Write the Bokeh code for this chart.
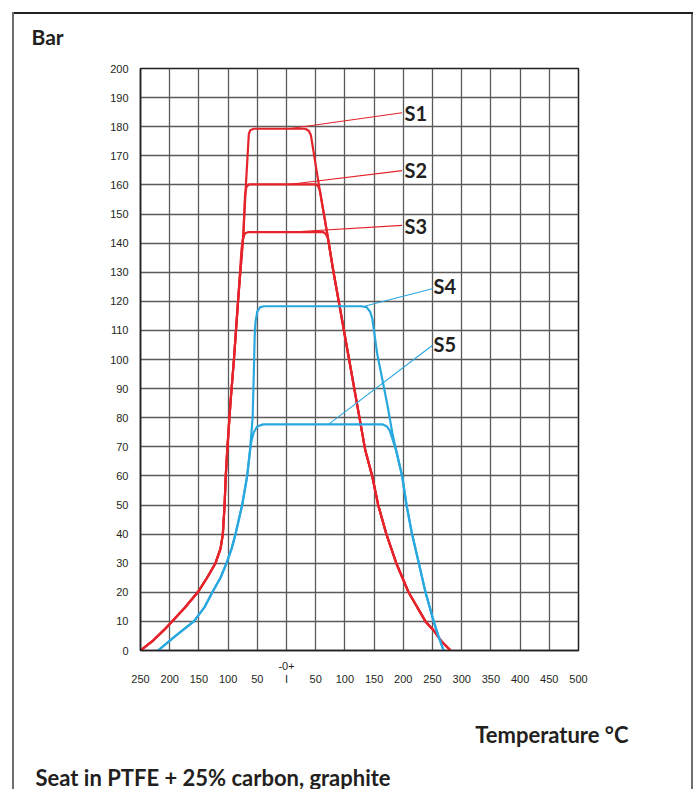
from bokeh.plotting import figure
from bokeh.models import Range1d, FixedTicker, Label, Title
from bokeh.embed import file_html
from bokeh.resources import INLINE

# ---- axes ----
x_ticks = [-250, -200, -150, -100, -50, 0, 50, 100, 150, 200, 250, 300, 350, 400, 450, 500]
x_tick_labels = ["250", "200", "150", "100", "50", "-0+", "50", "100", "150", "200", "250",
                 "300", "350", "400", "450", "500"]
y_ticks = list(range(0, 201, 10))

# ---- series (temperature degC, pressure bar) ----
s1_t = [-250, -228, -210, -196, -175, -152, -136, -121.6, -113, -109, -106, -104, -101.5, -96, -90, -83,
        -74, -69.5, -64.5, -62, -56, 32, 38, 41.5, 42.3, 55.3, 69.7, 80, 93.9, 107.2, 120.5, 135,
        146.7, 157, 171, 188, 209, 238, 252, 266, 281]
s1_p = [0, 3.5, 7, 10, 14.5, 20, 25, 30, 35, 40, 50, 60, 68.7, 85, 100, 120,
        142.6, 160, 177.5, 178.8, 179.3, 179.3, 178.6, 177.2, 176.4, 160.2, 143.3, 130.6, 115, 100, 85, 68.7,
        60, 50, 40, 30, 20, 10, 6.9, 3, 0]

s2_t = [-250, -228, -210, -196, -175, -152, -136, -121.6, -113, -109, -106, -104, -101.5, -96, -90, -83,
        -74, -71, -68.5, -64, 50, 54, 57, 69.7, 80, 93.9, 107.2, 120.5, 135,
        146.7, 157, 171, 188, 209, 238, 252, 266, 281]
s2_p = [0, 3.5, 7, 10, 14.5, 20, 25, 30, 35, 40, 50, 60, 68.7, 85, 100, 120,
        142.6, 156.5, 159.4, 160.2, 160.2, 159.6, 158.2, 143.3, 130.6, 115, 100, 85, 68.7,
        60, 50, 40, 30, 20, 10, 6.9, 3, 0]

s3_t = [-250, -228, -210, -196, -175, -152, -136, -121.6, -113, -109, -106, -104, -101.5, -96, -90, -83,
        -77, -74.5, -71, -65, 63, 67, 70.9, 80, 93.9, 107.2, 120.5, 135,
        146.7, 157, 171, 188, 209, 238, 252, 266, 281]
s3_p = [0, 3.5, 7, 10, 14.5, 20, 25, 30, 35, 40, 50, 60, 68.7, 85, 100, 120,
        138, 141.5, 143.4, 143.8, 143.8, 143.2, 141.8, 130.6, 115, 100, 85, 68.7,
        60, 50, 40, 30, 20, 10, 6.9, 3, 0]

s4_t = [-220, -190, -158.7, -140, -127, -113, -102.7, -94, -87.3, -75.9, -67.3, -62.5, -58, -56, -54.5,
        -53, -50, -45, -38, 128, 137, 143, 147, 155.3, 172.4, 181, 187.8, 198, 205.5, 215, 226.6,
        238, 252, 260, 269]
s4_p = [0, 5, 10, 15, 20, 25, 30, 35, 40, 50, 60, 68.7, 80, 95, 108,
        113, 116.5, 118, 118.3, 118.3, 118, 116.5, 114, 102, 84.8, 75, 68.7, 60, 50, 40, 30,
        20, 10, 5, 0]

s5_t = [-220, -190, -158.7, -140, -127, -113, -102.7, -94, -87.3, -75.9, -67.3, -62.5, -60, -56, -50,
        -40, 165, 172, 177, 181, 187.8, 198, 205.5, 215, 226.6, 238, 252, 260, 269]
s5_p = [0, 5, 10, 15, 20, 25, 30, 35, 40, 50, 60, 68.7, 72, 75, 77,
        77.7, 77.7, 77, 75.5, 73, 68.7, 60, 50, 40, 30, 20, 10, 5, 0]

# ---- series labels and leader lines ----
series_names = ["S1", "S2", "S3", "S4", "S5"]
leader_t0 = [3.5, 7, 10, 135, 72]
leader_p0 = [179.3, 160.2, 143.8, 118.4, 77.7]
leader_t1 = [198, 198, 198, 249.5, 249.5]
leader_p1 = [184.8, 164.9, 146.1, 124.3, 104.8]
name_t = [202, 202, 202, 251.7, 251.7]
name_p = [184.6, 165.2, 145.9, 125.2, 105.2]

RED = "#e5232b"
BLUE = "#29a8e0"
INK = "#231f20"
GRID = "#5a5a5a"
series = [(s1_t, s1_p, RED), (s2_t, s2_p, RED), (s3_t, s3_p, RED), (s4_t, s4_p, BLUE), (s5_t, s5_p, BLUE)]
series_colors = [RED, RED, RED, BLUE, BLUE]

p = figure(width=695, height=789, output_backend="svg", toolbar_location=None,
           x_range=Range1d(-250, 500), y_range=Range1d(0, 200),
           min_border_left=140, min_border_right=117, min_border_top=68, min_border_bottom=139)
# outer box of the sheet (top, left and right edges), drawn behind a transparent canvas border
p.styles = {"background-color": "white",
            "box-shadow": "inset 12px 12px 0 0 white, inset -2px 0 0 0 white, "
                          "inset 14px 0 0 0 #6e6e6e, inset 0 14px 0 0 #231f20, inset -4px 0 0 0 #6e6e6e"}
p.background_fill_color = "white"
p.border_fill_alpha = 0
p.outline_line_color = INK
p.outline_line_width = 1.5

# title "Bar" above the chart, at the left
p.title.text = "Bar"
p.title.align = "left"
p.title.offset = -109
p.title.standoff = 39
p.title.text_font = "Lato"
p.title.text_font_style = "bold"
p.title.text_font_size = "21px"
p.title.text_color = INK

for ax in (p.xaxis[0], p.yaxis[0]):
    ax.major_tick_line_color = None
    ax.minor_tick_line_color = None
    ax.major_tick_out = 0
    ax.major_tick_in = 0
    ax.axis_line_color = INK
    ax.axis_line_width = 1.5
    ax.major_label_text_font = "Liberation Sans"
    ax.major_label_text_font_size = "11px"
    ax.major_label_text_color = INK

p.xaxis.ticker = FixedTicker(ticks=x_ticks)
p.xaxis.major_label_overrides = {t: ("-0+\nI" if l == "-0+" else "\n" + l)
                                 for t, l in zip(x_ticks, x_tick_labels)}
p.xaxis.major_label_standoff = 9
p.xaxis.major_label_text_line_height = 1.1
p.yaxis.ticker = FixedTicker(ticks=y_ticks)
p.yaxis.major_label_standoff = 12

p.xgrid.ticker = FixedTicker(ticks=x_ticks)
p.ygrid.ticker = FixedTicker(ticks=y_ticks)
for g in (p.xgrid[0], p.ygrid[0]):
    g.grid_line_color = GRID
    g.grid_line_width = 1.3

for t, pr, c in series:
    p.line(t, pr, line_color=c, line_width=2.2, line_join="round")

p.segment(x0=leader_t0, y0=leader_p0, x1=leader_t1, y1=leader_p1,
          line_color=series_colors, line_width=1.1)

for nm, t, pr in zip(series_names, name_t, name_p):
    p.add_layout(Label(x=t, y=pr, text=nm, text_font="Lato", text_font_style="bold",
                       text_font_size="20px", text_color=INK, text_baseline="middle", text_align="left"))

# titles below (a blank spacer first to push them down)
p.add_layout(Title(text=" ", standoff=-12, text_font="Lato", text_font_size="22px",
                   text_color=INK), "below")
p.add_layout(Title(text="Temperature °C", align="right", offset=-50, standoff=29,
                   text_font="Lato", text_font_style="bold", text_font_size="22px",
                   text_color=INK), "below")
p.add_layout(Title(text="Seat in PTFE + 25% carbon, graphite", align="left", offset=-105, standoff=-2,
                   text_font="Lato", text_font_style="bold", text_font_size="22px",
                   text_color=INK), "below")

open("out.html", "w").write(file_html(p, INLINE))
